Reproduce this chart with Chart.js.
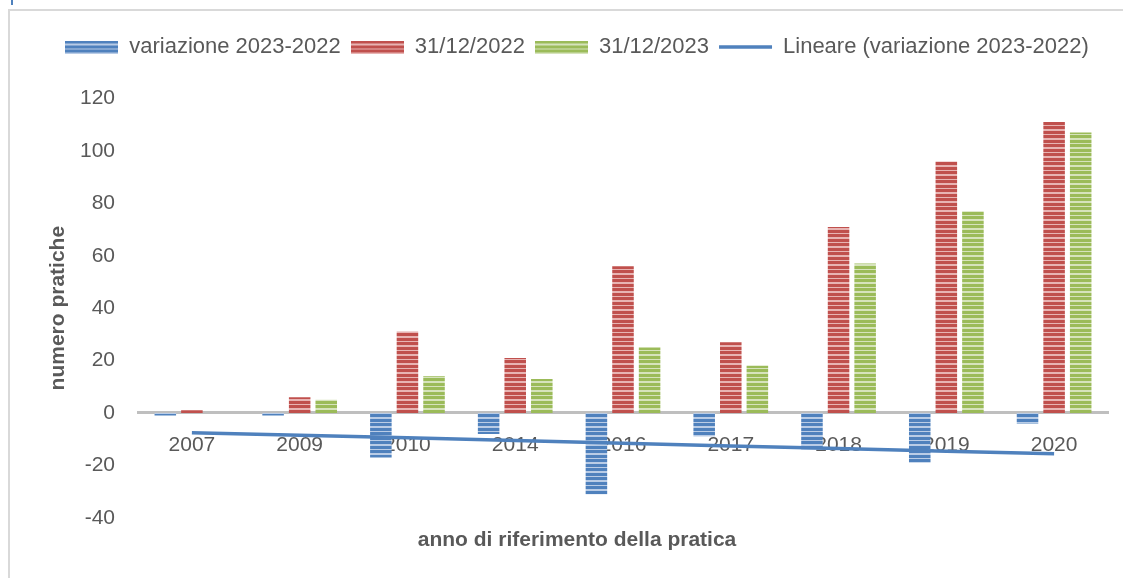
<!DOCTYPE html>
<html lang="it">
<head>
<meta charset="UTF-8">
<title>numero pratiche</title>
<script src="https://cdn.jsdelivr.net/npm/chart.js"></script>
<style>
  body { margin: 0; background: #fff; width: 1123px; height: 578px; overflow: hidden; position: relative; }
  .cornice { position: absolute; left: 8px; top: 9px; right: 0; bottom: 0; border-left: 2px solid #d9d9d9; border-top: 2px solid #d9d9d9; }
  .segno { position: absolute; left: 11px; top: 0; width: 2px; height: 5px; background: #4f81bd; }
  canvas { position: absolute; left: 0; top: 0; }
</style>
</head>
<body>
<div class="cornice"></div>
<div class="segno"></div>
<canvas id="grafico" width="1123" height="578"></canvas>
<script>
// dati
const anni = ['2007', '2009', '2010', '2014', '2016', '2017', '2018', '2019', '2020'];
const variazione = [-1, -1, -17, -8, -31, -9, -14, -19, -4];
const al2022 = [1, 6, 31, 21, 56, 27, 71, 96, 111];
const al2023 = [0, 5, 14, 13, 25, 18, 57, 77, 107];
const lineare = [-7.5, -8.5, -9.5, -10.5, -11.6, -12.6, -13.6, -14.6, -15.6];
const tickY = [-40, -20, 0, 20, 40, 60, 80, 100, 120];

const BLU = '#4f81bd', BLU_CH = '#b9cce6';
const ROSSO = '#c0504d', ROSSO_CH = '#e8b4b3';
const VERDE = '#9bbb59', VERDE_CH = '#d6e3bc';
const TESTO = '#595959';
const FONT = 'Liberation Sans, Arial, sans-serif';

// righe orizzontali (tratteggio stile Excel)
function righe(scuro, chiaro, w, h) {
    const c = document.createElement('canvas');
    c.width = w; c.height = h;
    const g = c.getContext('2d');
    const schema = [1, 1, 1, 0, 0, 1, 1, 1, 0];
    for (let y = 0; y < h; y++) {
        g.fillStyle = schema[y % 9] ? scuro : chiaro;
        g.fillRect(0, y, w, 1);
    }
    return c;
}

const ctx = document.getElementById('grafico').getContext('2d');
const trama = (s, c) => ctx.createPattern(righe(s, c, 9, 9), 'repeat');

const voci = [
    { text: 'variazione 2023-2022', pointStyle: righe(BLU, BLU_CH, 53, 13) },
    { text: '31/12/2022', pointStyle: righe(ROSSO, ROSSO_CH, 53, 13) },
    { text: '31/12/2023', pointStyle: righe(VERDE, VERDE_CH, 53, 13) },
    { text: 'Lineare (variazione 2023-2022)', pointStyle: 'line', strokeStyle: BLU, lineWidth: 3.5 }
];

new Chart(ctx, {
    type: 'bar',
    data: {
        labels: anni,
        datasets: [
            { label: voci[0].text, data: variazione, backgroundColor: trama(BLU, BLU_CH), order: 1 },
            { label: voci[1].text, data: al2022, backgroundColor: trama(ROSSO, ROSSO_CH), order: 1 },
            { label: voci[2].text, data: al2023, backgroundColor: trama(VERDE, VERDE_CH), order: 1 },
            {
                type: 'line', label: voci[3].text, data: lineare,
                borderColor: BLU, borderWidth: 3.5, pointRadius: 0, tension: 0, fill: false, order: 0
            }
        ]
    },
    options: {
        responsive: false,
        animation: false,
        datasets: { bar: { categoryPercentage: 0.74, barPercentage: 0.81, borderWidth: 0 } },
        layout: { padding: { top: 26, left: 46, right: 15, bottom: 0 } },
        plugins: {
            legend: {
                position: 'top',
                weight: 2500,
                labels: {
                    usePointStyle: true,
                    pointStyleWidth: 53,
                    boxHeight: 13,
                    padding: 10,
                    color: TESTO,
                    font: { family: FONT, size: 22 },
                    generateLabels: () => voci.map((v, i) => ({
                        text: v.text,
                        pointStyle: v.pointStyle,
                        fillStyle: 'transparent',
                        strokeStyle: v.strokeStyle || 'transparent',
                        lineWidth: v.lineWidth || 0,
                        fontColor: TESTO,
                        hidden: false,
                        datasetIndex: i
                    }))
                }
            },
            // spazio tra legenda e area del grafico
            subtitle: { display: true, text: '', font: { size: 10, lineHeight: 1 }, padding: { top: 0, bottom: 20.5 } },
            title: {
                display: true,
                position: 'bottom',
                text: 'anno di riferimento della pratica',
                color: TESTO,
                font: { family: FONT, size: 21, weight: 'bold' },
                padding: { top: 10, bottom: 25 }
            },
            tooltip: { enabled: false }
        },
        scales: {
            x: {
                position: { y: 0 },
                z: 1,
                grid: { display: false, drawTicks: false },
                border: { display: true, color: '#bfbfbf', width: 3 },
                ticks: { color: TESTO, font: { family: FONT, size: 21 }, padding: 20, maxRotation: 0 }
            },
            y: {
                min: tickY[0],
                max: tickY[tickY.length - 1],
                grid: { display: false, drawTicks: false },
                border: { display: false },
                afterFit: s => { s.width = 92; },
                ticks: { stepSize: 20, color: TESTO, font: { family: FONT, size: 21 }, padding: 23 },
                title: {
                    display: true,
                    text: 'numero pratiche',
                    color: TESTO,
                    font: { family: FONT, size: 21, weight: 'bold' },
                    padding: { top: 0, bottom: 0 }
                }
            }
        }
    }
});
</script>
</body>
</html>
